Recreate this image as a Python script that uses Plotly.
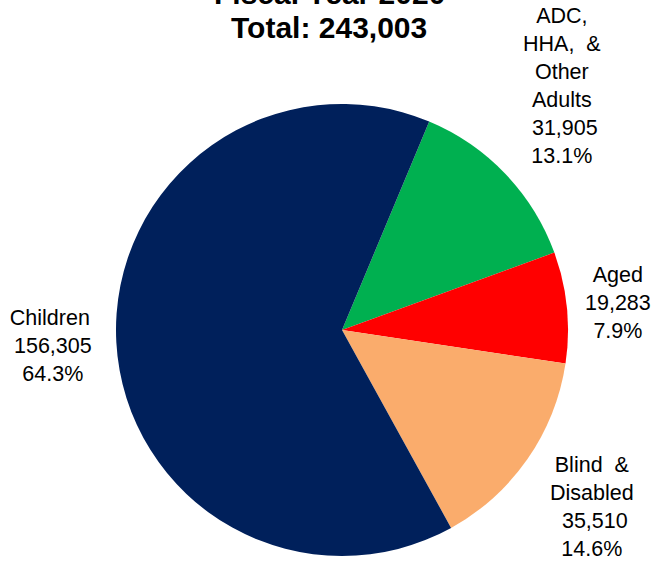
import plotly.graph_objects as go

# Enrollment by eligibility group, fiscal year 2020
categories = ["ADC, HHA, & Other Adults", "Aged", "Blind & Disabled", "Children"]
label_lines = [
    ["ADC,", "HHA,\u00a0\u00a0&", "Other", "Adults"],
    ["Aged"],
    ["Blind\u00a0\u00a0&", "Disabled"],
    ["Children"],
]
values = [31905, 19283, 35510, 156305]
colors = ["#00B050", "#FF0000", "#FAAC6C", "#00205B"]

title_line1 = "Fiscal Year 2020"
total = sum(values)

W, H = 660, 562
FONT = "Liberation Sans, Arial, sans-serif"
NBSP = "\u00a0"

fig = go.Figure(
    go.Pie(
        labels=categories,
        values=values,
        sort=False,
        direction="clockwise",
        rotation=22.7,
        marker=dict(colors=colors, line=dict(width=0)),
        textinfo="none",
        hoverinfo="label+value+percent",
        showlegend=False,
        domain=dict(x=[116 / W, 568 / W], y=[(H - 556) / H, (H - 104) / H]),
    )
)

# label anchor centres (pixels) and leading padding for value / percent lines
label_pos = [(562, 86), (618, 303), (592, 507), (50, 346)]
value_pad = [NBSP, "", NBSP, NBSP]
pct_pad = ["", "", "", NBSP]

annotations = []
for lines, v, (px, py), vp, pp in zip(label_lines, values, label_pos, value_pad, pct_pad):
    pct = 100 * v / total
    text = "<br>".join(lines + [f"{vp}{v:,}", f"{pp}{pct:.1f}%"])
    annotations.append(
        dict(
            x=px / W, y=1 - py / H, xref="paper", yref="paper",
            xanchor="center", yanchor="middle", align="center",
            text=text, showarrow=False,
            font=dict(family=FONT, size=21.5, color="#000000"),
        )
    )

annotations.append(
    dict(
        x=329 / W, y=1 - (-7) / H, xref="paper", yref="paper",
        xanchor="center", yanchor="middle", text=f"<b>{title_line1}</b>",
        showarrow=False, font=dict(family=FONT, size=30, color="#000000"),
    )
)
annotations.append(
    dict(
        x=329 / W, y=1 - 28 / H, xref="paper", yref="paper",
        xanchor="center", yanchor="middle", text=f"<b>Total: {total:,}</b>",
        showarrow=False, font=dict(family=FONT, size=30, color="#000000"),
    )
)

fig.update_layout(
    width=W, height=H,
    margin=dict(l=0, r=0, t=0, b=0),
    paper_bgcolor="white", plot_bgcolor="white",
    annotations=annotations,
)

fig.write_html("out.html")
